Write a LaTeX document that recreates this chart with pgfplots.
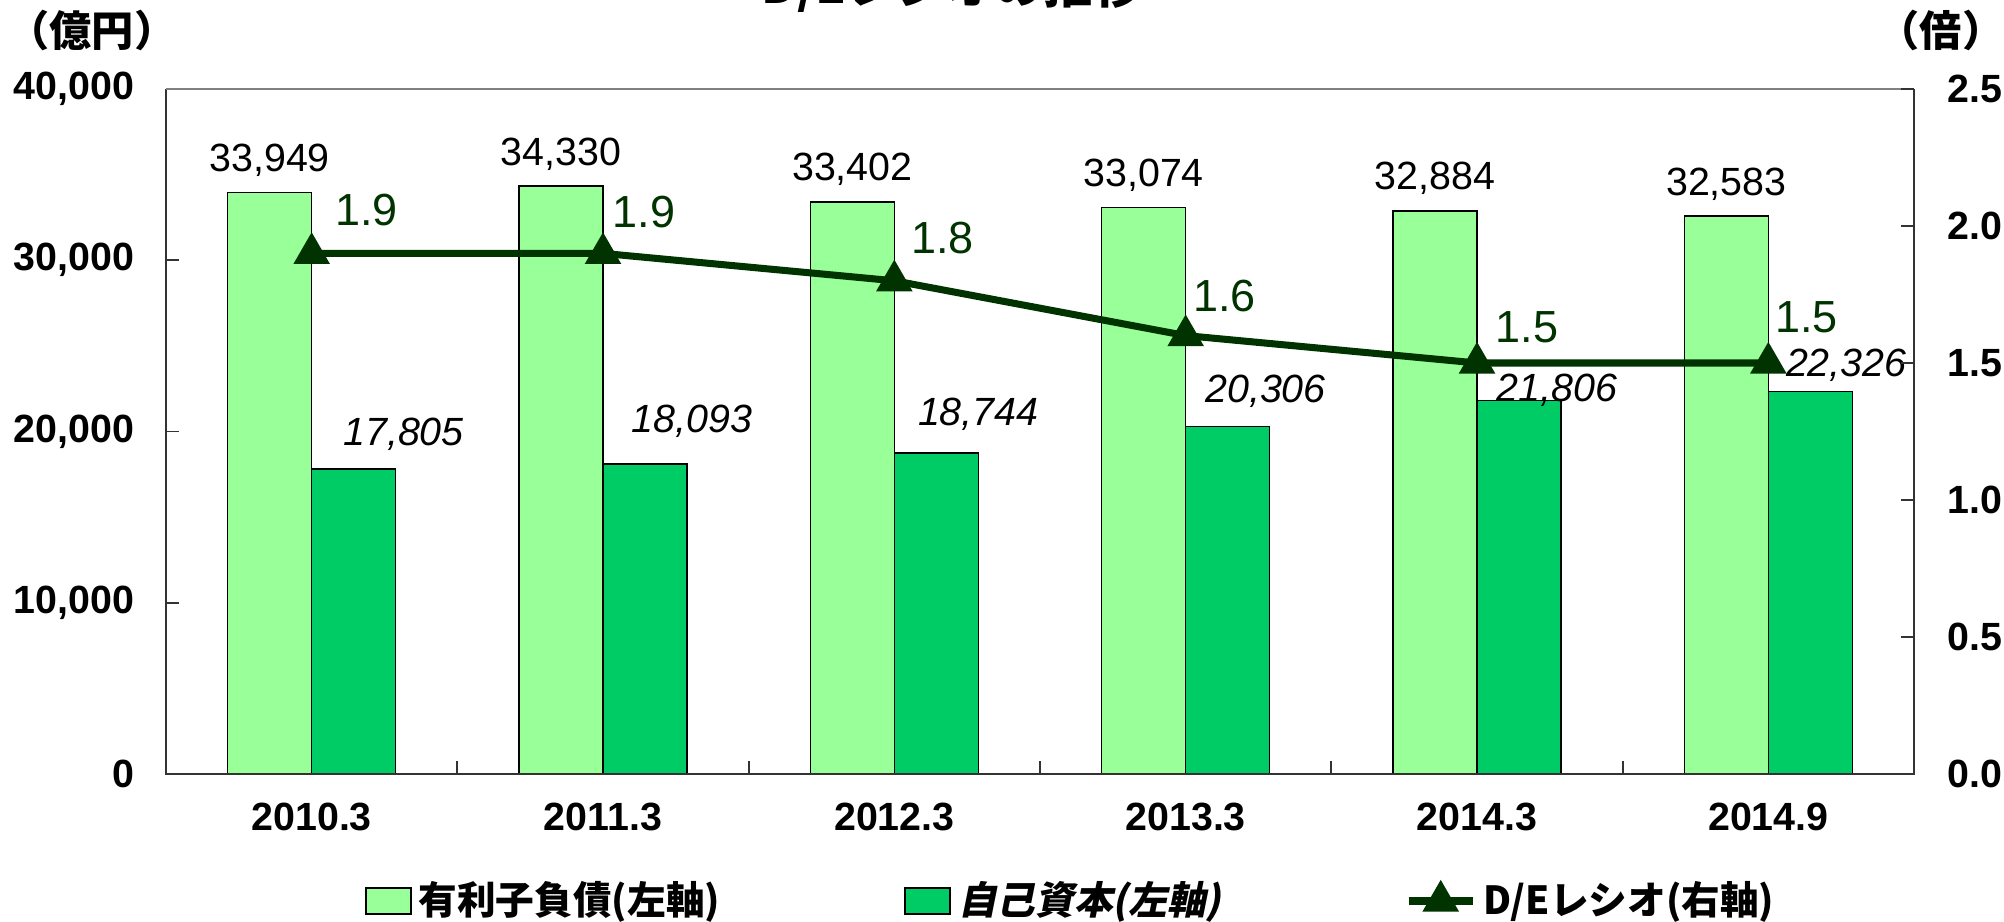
\documentclass[border=0pt]{standalone}
\usepackage{pgfplots}
\pgfplotsset{compat=1.18}
\usepackage{fontspec}
\setmainfont{Liberation Sans}
\newfontfamily\jp{Noto Sans CJK JP}
\newfontfamily\jpi{Noto Sans CJK JP}[FakeSlant=0.2]
\definecolor{lg}{HTML}{99FF99}
\definecolor{dg}{HTML}{00CC66}
\definecolor{ln}{HTML}{003300}
\newcommand\fa{\fontsize{11.2}{13}\selectfont}
\newcommand\fb{\fontsize{12.8}{15}\selectfont}
\pgfplotsset{
  lineleg/.style={legend image code/.code={\draw[mark repeat=2, mark phase=2, ##1] plot coordinates {(0mm,0mm) (3.2mm,0mm) (6.4mm,0mm)};}},
  lgleg/.style={legend image code/.code={\draw[fill=lg, draw=black, line width=0.6pt] (0mm,-1.3mm) rectangle (4.5mm,1.3mm);}},
  dgleg/.style={legend image code/.code={\draw[fill=dg, draw=black, line width=0.6pt] (0mm,-1.3mm) rectangle (4.5mm,1.3mm);}},
}
\begin{document}
\begin{tikzpicture}
\begin{axis}[
  at={(0,0)}, anchor=south west, scale only axis,
  width=174.8mm, height=68.5mm,
  xmin=-0.5, xmax=5.5, ymin=0, ymax=40000,
  scaled y ticks=false,
  clip=false,
  axis line style={draw=none},
  tick align=inside, major tick length=1.3mm,
  tick style={black!80, line width=0.5pt},
  xtick={-0.5,0.5,...,5.5},
  x tick label as interval,
  xticklabels={2010.3,2011.3,2012.3,2013.3,2014.3,2014.9},
  xticklabel style={font=\bfseries\fa, inner sep=0pt, anchor=north, yshift=-2.8mm},
  ytick={0,10000,20000,30000,40000},
  yticklabels={0,{10,000},{20,000},{30,000},{40,000}},
  yticklabel style={font=\bfseries\fa, inner sep=0pt, anchor=east, xshift=-3.1mm},
  ytick pos=left, xtick pos=bottom,
]
\addplot[ybar, bar width=8.4mm, bar shift=-4.2mm, fill=lg, draw=black, line width=0.4pt]
  coordinates {(0,33949) (1,34330) (2,33402) (3,33074) (4,32884) (5,32583)};
\addplot[ybar, bar width=8.4mm, bar shift=4.2mm, fill=dg, draw=black, line width=0.4pt]
  coordinates {(0,17805) (1,18093) (2,18744) (3,20306) (4,21806) (5,22326)};
% frame
\draw[black!80, line width=0.6pt] (rel axis cs:0,1) -- (rel axis cs:0,0) -- (rel axis cs:1,0) -- (rel axis cs:1,1);
\draw[gray, line width=0.8pt] (rel axis cs:0,1) -- (rel axis cs:1,1);
% light bar labels
\foreach \i/\v/\t in {0/33949/{33,949},1/34330/{34,330},2/33402/{33,402},3/33074/{33,074},4/32884/{32,884},5/32583/{32,583}}{
  \edef\tmp{\noexpand\node[anchor=base, font=\noexpand\fa, inner sep=0pt] at ([xshift=-4.2mm, yshift=2.1mm]axis cs:\i,\v) {\t};}\tmp
}
% dark bar labels
\foreach \i/\v/\t/\dx/\dy in {0/17805/{17,805}/3.1/2.4,1/18093/{18,093}/2.8/3.2,2/18744/{18,744}/2.3/2.7,3/20306/{20,306}/1.9/2.4,4/21806/{21,806}/1.9/-0.1,5/22326/{22,326}/1.7/1.5}{
  \edef\tmp{\noexpand\node[anchor=base west, font=\noexpand\fa\noexpand\itshape, inner sep=0pt] at ([xshift=\dx mm, yshift=\dy mm]axis cs:\i,\v) {\t};}\tmp
}
% axis unit labels and title
\node[font=\jp\bfseries\fontsize{12}{14}\selectfont, inner sep=0pt] at ([xshift=-7.4mm, yshift=74.4mm]rel axis cs:0,0) {（億円）};
\node[font=\jp\bfseries\fontsize{12}{14}\selectfont, inner sep=0pt] at ([xshift=2.7mm, yshift=74.4mm]rel axis cs:1,0) {（倍）};
\node[font=\jp\bfseries\fontsize{14}{16}\selectfont, anchor=base, inner sep=0pt] at ([xshift=78.6mm, yshift=77.0mm]rel axis cs:0,0) {D/Eレシオの推移};
\end{axis}
\begin{axis}[
  at={(0,0)}, anchor=south west, scale only axis,
  width=174.8mm, height=68.5mm,
  xmin=-0.5, xmax=5.5, ymin=0, ymax=2.5,
  clip=false,
  axis x line=none, axis y line*=right,
  axis line style={draw=none},
  tick align=inside, major tick length=1.3mm,
  tick style={black!80, line width=0.5pt},
  ytick={0,0.5,1,1.5,2,2.5},
  yticklabels={0.0,0.5,1.0,1.5,2.0,2.5},
  yticklabel style={font=\bfseries\fa, inner sep=0pt, anchor=west, xshift=3.3mm},
  legend columns=3,
  legend style={at={(0.518,0)}, anchor=center, yshift=-12.7mm, draw=none, fill=none,
    font=\jp\bfseries\fontsize{11}{13}\selectfont,
    /tikz/every even column/.append style={column sep=18mm},
    /tikz/every odd column/.append style={column sep=0.3mm},
    nodes={inner sep=0.4mm}},
  legend cell align=left,
]
\addlegendimage{lgleg}
\addlegendentry{有利子負債(左軸)}
\addlegendimage{dgleg}
\addlegendentry{\jpi\bfseries 自己資本(左軸)}
\addplot[ln, line width=2pt, mark=triangle*, mark size=4pt, mark options={solid}, lineleg]
  coordinates {(0,1.9) (1,1.9) (2,1.8) (3,1.6) (4,1.5) (5,1.5)};
\addlegendentry{D/Eレシオ(右軸)}
\foreach \i/\v/\dx/\dy in {0/1.9/2.3/2.8,1/1.9/0.9/2.6,2/1.8/1.6/2.7,3/1.6/0.7/2.4,4/1.5/1.8/2.0,5/1.5/0.6/3.0}{
  \edef\tmp{\noexpand\node[anchor=base west, font=\noexpand\fb, text=ln, inner sep=0pt] at ([xshift=\dx mm, yshift=\dy mm]axis cs:\i,\v) {\v};}\tmp
}
\end{axis}
\pgfresetboundingbox
\path[use as bounding box] (-16.6mm,-14.8mm) rectangle (183.8mm,77.4mm);
\end{tikzpicture}
\end{document}
